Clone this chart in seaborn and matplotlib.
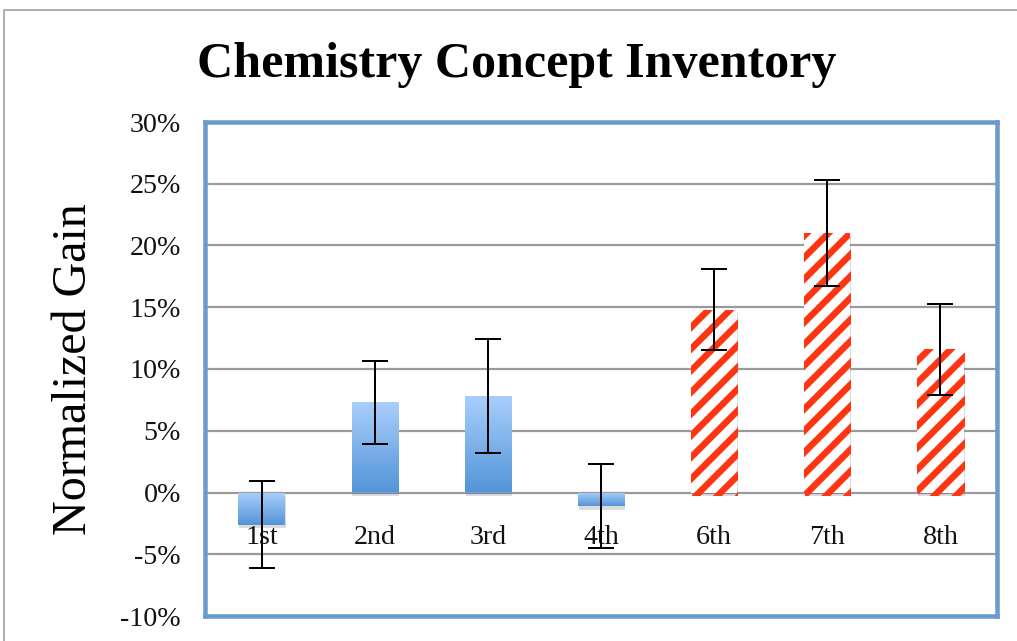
import numpy as np
import pandas as pd
import matplotlib
matplotlib.use('Agg')
import matplotlib.pyplot as plt
import matplotlib.patheffects as pe
from matplotlib.patches import Rectangle
from matplotlib.colors import LinearSegmentedColormap
import seaborn as sns

# ------------------------------------------------------------
# Data (normalized gain, %)
# ------------------------------------------------------------
grades = ["1st", "2nd", "3rd", "4th", "6th", "7th", "8th"]
gain = [-2.6, 7.3, 7.8, -1.1, 14.8, 21.0, 11.6]
gain_err = [3.5, 3.35, 4.6, 3.4, 3.3, 4.3, 3.7]
group = ["elem", "elem", "elem", "elem", "mid", "mid", "mid"]
y_ticks = [-10, -5, 0, 5, 10, 15, 20, 25, 30]

df = pd.DataFrame({"grade": grades, "gain": gain, "err": gain_err, "group": group})

DPI = 130
PX = 72 / DPI  # points per pixel

sns.set_theme(style="white")
plt.rcParams['font.family'] = ['Liberation Serif', 'DejaVu Serif']
plt.rcParams['hatch.linewidth'] = 6.5 * PX

fig = plt.figure(figsize=(1017 / DPI, 641 / DPI), dpi=DPI)
ax = fig.add_axes([205 / 1017, 1 - 616 / 641, 792 / 1017, 494 / 641])

sns.barplot(data=df, x="grade", y="gain", color="#6aa3e0", width=0.41,
            errorbar=None, ax=ax, zorder=3)

blue_cmap = LinearSegmentedColormap.from_list("bluegrad", ["#a9cffc", "#5495d8"])
grad = np.linspace(0, 1, 64).reshape(-1, 1)
shadow = [pe.SimplePatchShadow(offset=(0.5, -2), shadow_rgbFace="k", alpha=0.15), pe.Normal()]

for patch, g in zip(ax.patches, df["group"]):
    patch.set_path_effects(shadow)
    x0, w = patch.get_x(), patch.get_width()
    y0, h = patch.get_y(), patch.get_height()
    if g == "elem":
        # blue bars: vertical gradient, light on top
        patch.set_facecolor("#6aa3e0")
        patch.set_linewidth(0)
        lo, hi = min(y0, y0 + h), max(y0, y0 + h)
        im = ax.imshow(grad, cmap=blue_cmap, extent=(x0, x0 + w, lo, hi),
                       origin="upper", aspect="auto", zorder=3.5)
        im.set_clip_path(patch)
    else:
        # red/white diagonal stripes
        patch.set_facecolor("white")
        patch.set_edgecolor("#ff3512")
        patch.set_linewidth(0)
        patch.set_hatch("//")

pos = np.arange(len(df))
ax.errorbar(pos, df["gain"], yerr=df["err"], fmt="none", ecolor="black",
            elinewidth=2 * PX, capsize=13 * PX, capthick=2 * PX, zorder=5)

# category labels sit inside the plot, just below zero
for p, name in zip(pos, df["grade"]):
    ax.text(p, -3.65, name, ha="center", va="center", fontsize=28 * PX,
            color="#111111", zorder=4)

ax.set_xlim(-0.5, len(df) - 0.5)
ax.set_ylim(-10, 30)
ax.set_xticks([])
ax.set_xlabel("")
ax.set_ylabel("")
ax.set_yticks(y_ticks)
ax.set_yticklabels([f"{t}%" for t in y_ticks], fontsize=28 * PX)
ax.tick_params(axis="y", length=0, pad=24 * PX, colors="#111111")

ax.set_axisbelow(True)
ax.yaxis.grid(True, color="#9a9a9a", linewidth=2.2 * PX)
for s in ax.spines.values():
    s.set_visible(True)
    s.set_color("#6b9bcd")
    s.set_linewidth(4.5 * PX)
    s.set_zorder(6)

fig.text(517 / 1017, 1 - 65 / 641, "Chemistry Concept Inventory", ha="center", va="center",
         fontsize=50 * PX, fontweight="bold", color="black")
fig.text(74 / 1017, 1 - 369 / 641, "Normalized Gain", ha="center", va="center",
         rotation=90, fontsize=48 * PX, color="black")

# chart area border
fig.patches.append(Rectangle((4 / 1017, -0.05), 1.2, 1.05 - 10 / 641, transform=fig.transFigure,
                             fill=False, edgecolor="#b0b0b0", linewidth=2 * PX))

fig.savefig("out.png", dpi=DPI, facecolor="white")
